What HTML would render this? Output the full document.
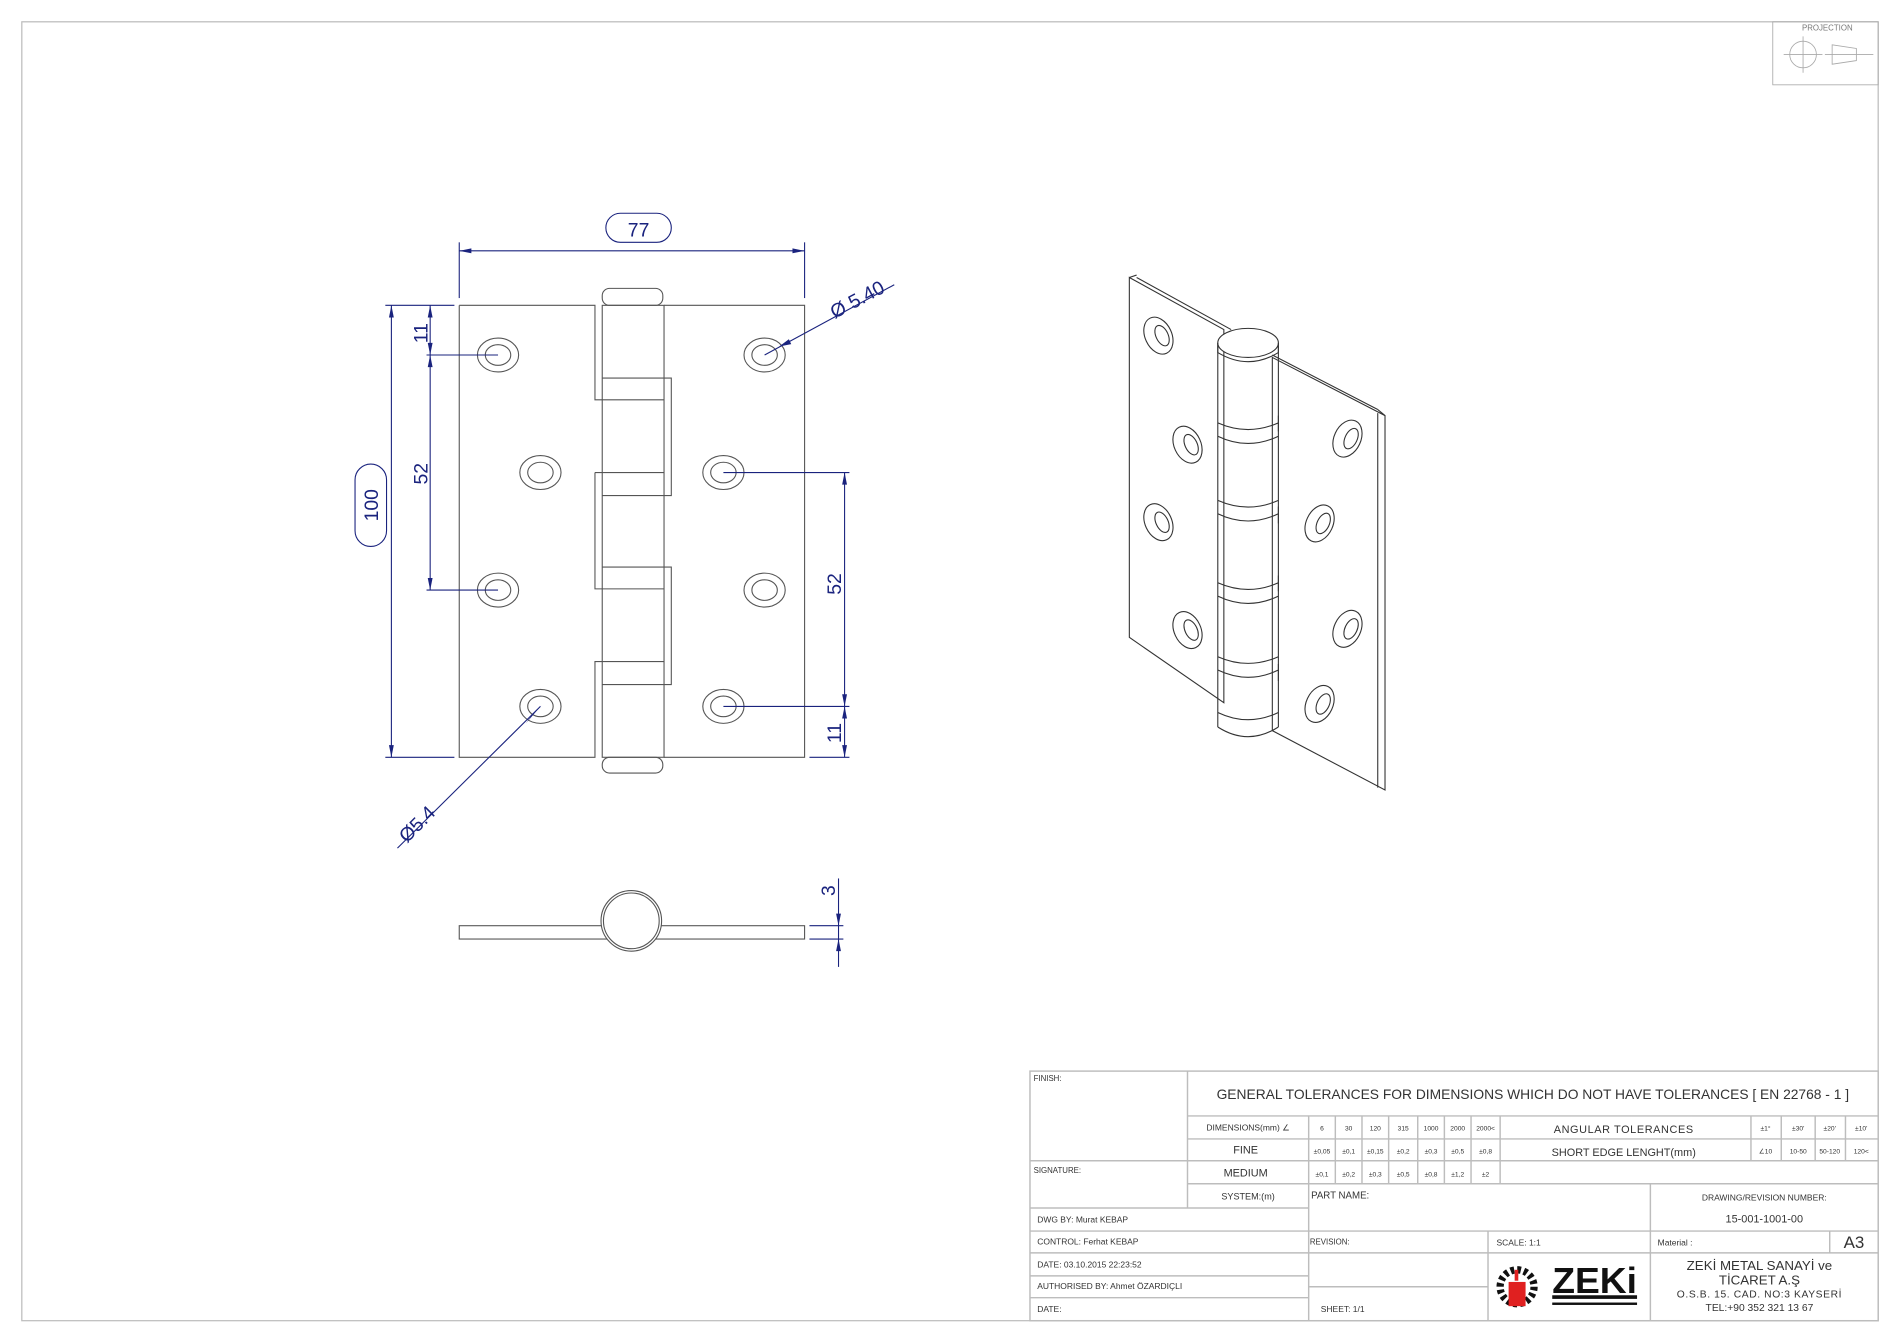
<!DOCTYPE html>
<html><head><meta charset="utf-8"><style>
html,body{margin:0;padding:0;background:#fff;}
svg{display:block;}
text{font-family:"Liberation Sans","DejaVu Sans",sans-serif;}
</style></head><body>
<svg width="1900" height="1343" viewBox="0 0 1568 1108.4" preserveAspectRatio="none" xmlns="http://www.w3.org/2000/svg">
<rect x="0" y="0" width="1568" height="1108.4" fill="#fff"/>
<!-- frame -->
<rect x="18" y="18" width="1532" height="1072" fill="none" stroke="#bbb" stroke-width="1"/>
<!-- projection box -->
<g stroke="#aaa" fill="none" stroke-width="0.7">
<rect x="1463" y="18" width="87" height="52"/>
<circle cx="1488" cy="45" r="11"/>
<line x1="1472" y1="45" x2="1504" y2="45"/><line x1="1488" y1="30" x2="1488" y2="60"/>
<polygon points="1512,37 1532,40 1532,50 1512,53"/>
<line x1="1506" y1="45" x2="1546" y2="45"/>
</g>
<text x="1508" y="25" font-size="6.5" fill="#777" text-anchor="middle">PROJECTION</text>

<!-- FRONT VIEW -->
<g stroke="#555" fill="none" stroke-width="0.9">
<path d="M379,252 H491 V330 H497 M491,330 M379,252 V625 H491 V546 H497"/>
<path d="M491,390 H497 M491,390 V486 H497"/>
<path d="M548,252 H664 V625 H548"/>
<rect x="497" y="252" width="51" height="373"/>
<rect x="497" y="238" width="50" height="14" rx="6"/>
<rect x="497" y="625" width="50" height="13" rx="6"/>
<line x1="497" y1="312" x2="548" y2="312"/><line x1="497" y1="330" x2="548" y2="330"/>
<line x1="497" y1="390" x2="548" y2="390"/><line x1="497" y1="409" x2="548" y2="409"/>
<line x1="497" y1="468" x2="548" y2="468"/><line x1="497" y1="486" x2="548" y2="486"/>
<line x1="497" y1="546" x2="548" y2="546"/><line x1="497" y1="565" x2="548" y2="565"/>
<path d="M548,312 H554 V409 H548 M548,468 H554 V565 H548"/>
<g>
<ellipse cx="411" cy="293" rx="17" ry="14"/><ellipse cx="411" cy="293" rx="10.5" ry="8.5"/>
<ellipse cx="446" cy="390" rx="17" ry="14"/><ellipse cx="446" cy="390" rx="10.5" ry="8.5"/>
<ellipse cx="411" cy="487" rx="17" ry="14"/><ellipse cx="411" cy="487" rx="10.5" ry="8.5"/>
<ellipse cx="446" cy="583" rx="17" ry="14"/><ellipse cx="446" cy="583" rx="10.5" ry="8.5"/>
<ellipse cx="631" cy="293" rx="17" ry="14"/><ellipse cx="631" cy="293" rx="10.5" ry="8.5"/>
<ellipse cx="597" cy="390" rx="17" ry="14"/><ellipse cx="597" cy="390" rx="10.5" ry="8.5"/>
<ellipse cx="631" cy="487" rx="17" ry="14"/><ellipse cx="631" cy="487" rx="10.5" ry="8.5"/>
<ellipse cx="597" cy="583" rx="17" ry="14"/><ellipse cx="597" cy="583" rx="10.5" ry="8.5"/>
</g>
<!-- bottom view -->
<rect x="379" y="764" width="285" height="11"/>
<circle cx="521" cy="760" r="25" fill="#fff"/><circle cx="521" cy="760" r="23"/>
</g>

<!-- DIMENSIONS -->
<g stroke="#1a237e" fill="none" stroke-width="0.9">
<line x1="379" y1="200" x2="379" y2="246"/><line x1="664" y1="200" x2="664" y2="246"/>
<line x1="379" y1="207" x2="664" y2="207"/>
<rect x="500" y="176" width="54" height="24" rx="12"/>
<line x1="318" y1="252" x2="375" y2="252"/><line x1="318" y1="625" x2="375" y2="625"/>
<line x1="323" y1="252" x2="323" y2="625"/>
<rect x="293" y="383" width="26" height="68" rx="13"/>
<line x1="355" y1="252" x2="355" y2="487"/>
<line x1="352" y1="293" x2="411" y2="293"/><line x1="352" y1="487" x2="411" y2="487"/>
<line x1="697" y1="390" x2="697" y2="625"/>
<line x1="597" y1="390" x2="701" y2="390"/><line x1="597" y1="583" x2="701" y2="583"/>
<line x1="668" y1="625" x2="701" y2="625"/>
<line x1="631" y1="293" x2="738" y2="235"/>
<line x1="446" y1="583" x2="328" y2="700"/>
<line x1="692" y1="725" x2="692" y2="798"/>
<line x1="668" y1="764" x2="696" y2="764"/><line x1="668" y1="775" x2="696" y2="775"/>
</g>
<g fill="#1a237e">
<polygon points="379,207 389,205 389,209"/><polygon points="664,207 654,205 654,209"/>
<polygon points="323,252 321,262 325,262"/><polygon points="323,625 321,615 325,615"/>
<polygon points="355,252 353,262 357,262"/><polygon points="355,293 353,283 357,283"/>
<polygon points="355,293 353,303 357,303"/><polygon points="355,487 353,477 357,477"/>
<polygon points="697,390 695,400 699,400"/><polygon points="697,583 695,573 699,573"/>
<polygon points="697,583 695,593 699,593"/><polygon points="697,625 695,615 699,615"/>
<polygon points="692,764 690,754 694,754"/><polygon points="692,775 690,785 694,785"/>
<polygon points="643,286 651,280 653,284"/>
<polygon points="439,590 447,582 434,597" />
</g>
<g fill="#1a237e" font-size="16">
<text x="527" y="195" text-anchor="middle">77</text>
<text transform="translate(312,417) rotate(-90)" text-anchor="middle">100</text>
<text transform="translate(353,275) rotate(-90)" text-anchor="middle">11</text>
<text transform="translate(353,391) rotate(-90)" text-anchor="middle">52</text>
<text transform="translate(694,482) rotate(-90)" text-anchor="middle">52</text>
<text transform="translate(694,605) rotate(-90)" text-anchor="middle">11</text>
<text transform="translate(689,735) rotate(-90)" text-anchor="middle">3</text>
<text transform="translate(710,252) rotate(-28)" text-anchor="middle">Ø 5.40</text>
<text transform="translate(348,684) rotate(-45)" text-anchor="middle">Ø5.4</text>
</g>

<!-- ISO VIEW -->
<g stroke="#333" fill="none" stroke-width="0.9">
<polygon points="932,229 1010,272 1010,580 932,526" fill="#fff"/>
<polygon points="938,229 1016,272" />
<line x1="932" y1="229" x2="938" y2="227"/>
<polygon points="1050,295 1143,343 1143,652 1050,603" fill="#fff"/>
<line x1="1050" y1="293" x2="1137" y2="338"/><line x1="1137" y1="338" x2="1143" y2="343"/>
<line x1="1137" y1="341" x2="1137" y2="650"/>
<path d="M1005,283 V600 M1055,283 V600" />
<path d="M1005,600 Q1030,616 1055,600" />
<ellipse cx="1030" cy="283" rx="25" ry="12" fill="#fff"/>
<path d="M1005,283 V291 Q1030,306 1055,291 V283"/>
<path d="M1005,349 Q1030,360 1055,349 M1005,360 Q1030,372 1055,360 M1055,343 V356"/>
<path d="M1005,413 Q1030,424 1055,413 M1005,424 Q1030,436 1055,424 M1055,418 V432"/>
<path d="M1005,481 Q1030,492 1055,481 M1005,492 Q1030,504 1055,492 M1055,475 V488"/>
<path d="M1005,542 Q1030,553 1055,542 M1005,553 Q1030,565 1055,553 M1055,548 V562"/>
<path d="M1005,588 Q1030,600 1055,588"/>
<g>
<ellipse cx="956" cy="277" rx="11" ry="16" transform="rotate(-25 956 277)"/><ellipse cx="959" cy="277" rx="5" ry="9" transform="rotate(-25 959 277)"/>
<ellipse cx="980" cy="367" rx="11" ry="16" transform="rotate(-25 980 367)"/><ellipse cx="983" cy="367" rx="5" ry="9" transform="rotate(-25 983 367)"/>
<ellipse cx="956" cy="431" rx="11" ry="16" transform="rotate(-25 956 431)"/><ellipse cx="959" cy="431" rx="5" ry="9" transform="rotate(-25 959 431)"/>
<ellipse cx="980" cy="520" rx="11" ry="16" transform="rotate(-25 980 520)"/><ellipse cx="983" cy="520" rx="5" ry="9" transform="rotate(-25 983 520)"/>
<ellipse cx="1112" cy="362" rx="11" ry="16" transform="rotate(25 1112 362)"/><ellipse cx="1115" cy="362" rx="5" ry="9" transform="rotate(25 1115 362)"/>
<ellipse cx="1089" cy="432" rx="11" ry="16" transform="rotate(25 1089 432)"/><ellipse cx="1092" cy="432" rx="5" ry="9" transform="rotate(25 1092 432)"/>
<ellipse cx="1112" cy="519" rx="11" ry="16" transform="rotate(25 1112 519)"/><ellipse cx="1115" cy="519" rx="5" ry="9" transform="rotate(25 1115 519)"/>
<ellipse cx="1089" cy="581" rx="11" ry="16" transform="rotate(25 1089 581)"/><ellipse cx="1092" cy="581" rx="5" ry="9" transform="rotate(25 1092 581)"/>
</g>
</g>

<!-- TITLE BLOCK -->
<g stroke="#bdbdbd" fill="none" stroke-width="1.2">
<rect x="850" y="884" width="700" height="206"/>
<line x1="980" y1="884" x2="980" y2="997"/>
<line x1="980" y1="921" x2="1550" y2="921"/>
<line x1="980" y1="940" x2="1550" y2="940"/>
<line x1="850" y1="958" x2="1550" y2="958"/>
<line x1="980" y1="977" x2="1550" y2="977"/>
<line x1="850" y1="997" x2="1080" y2="997"/>
<line x1="1362" y1="977" x2="1362" y2="1090"/>
<line x1="850" y1="1016" x2="1550" y2="1016"/>
<line x1="850" y1="1034" x2="1550" y2="1034"/>
<line x1="850" y1="1053" x2="1080" y2="1053"/>
<line x1="1080" y1="1062" x2="1228" y2="1062"/>
<line x1="850" y1="1071" x2="1080" y2="1071"/>
<line x1="1080" y1="921" x2="1080" y2="1090"/>
<line x1="1228" y1="1016" x2="1228" y2="1090"/>
<line x1="1510" y1="1016" x2="1510" y2="1034"/>
<line x1="1102" y1="921" x2="1102" y2="977"/><line x1="1124" y1="921" x2="1124" y2="977"/>
<line x1="1146" y1="921" x2="1146" y2="977"/><line x1="1170" y1="921" x2="1170" y2="977"/>
<line x1="1192" y1="921" x2="1192" y2="977"/><line x1="1214" y1="921" x2="1214" y2="977"/>
<line x1="1238" y1="921" x2="1238" y2="977"/>
<line x1="1445" y1="921" x2="1445" y2="958"/><line x1="1470" y1="921" x2="1470" y2="958"/>
<line x1="1498" y1="921" x2="1498" y2="958"/><line x1="1523" y1="921" x2="1523" y2="958"/>
</g>
<g fill="#333" font-size="7.5">
<text x="853" y="892" font-size="6.5">FINISH:</text>
<text x="1265" y="907" font-size="11.5" text-anchor="middle" textLength="522" lengthAdjust="spacingAndGlyphs">GENERAL TOLERANCES FOR DIMENSIONS WHICH DO NOT HAVE TOLERANCES [ EN 22768 - 1 ]</text>
<text x="1030" y="933" font-size="7" text-anchor="middle">DIMENSIONS(mm) ∠</text>
<text x="1028" y="952" font-size="9" text-anchor="middle">FINE</text>
<text x="1028" y="971" font-size="9" text-anchor="middle">MEDIUM</text>
<text x="1030" y="990" font-size="7.5" text-anchor="middle">SYSTEM:(m)</text>
<text x="853" y="968" font-size="6.5">SIGNATURE:</text>
<g font-size="5.5" text-anchor="middle">
<text x="1091" y="933">6</text><text x="1113" y="933">30</text><text x="1135" y="933">120</text><text x="1158" y="933">315</text><text x="1181" y="933">1000</text><text x="1203" y="933">2000</text><text x="1226" y="933">2000&lt;</text>
<text x="1091" y="952">±0,05</text><text x="1113" y="952">±0,1</text><text x="1135" y="952">±0,15</text><text x="1158" y="952">±0,2</text><text x="1181" y="952">±0,3</text><text x="1203" y="952">±0,5</text><text x="1226" y="952">±0,8</text>
<text x="1091" y="971">±0,1</text><text x="1113" y="971">±0,2</text><text x="1135" y="971">±0,3</text><text x="1158" y="971">±0,5</text><text x="1181" y="971">±0,8</text><text x="1203" y="971">±1,2</text><text x="1226" y="971">±2</text>
<text x="1457" y="933">±1°</text><text x="1484" y="933">±30'</text><text x="1510" y="933">±20'</text><text x="1536" y="933">±10'</text>
<text x="1457" y="952">∠10</text><text x="1484" y="952">10-50</text><text x="1510" y="952">50-120</text><text x="1536" y="952">120&lt;</text>
</g>
<text x="1340" y="935" font-size="9" text-anchor="middle" letter-spacing="0.5">ANGULAR  TOLERANCES</text>
<text x="1340" y="954" font-size="9" text-anchor="middle">SHORT EDGE LENGHT(mm)</text>
<text x="1082" y="989" font-size="8">PART NAME:</text>
<text x="1456" y="991" font-size="7" text-anchor="middle">DRAWING/REVISION NUMBER:</text>
<text x="1456" y="1009" font-size="9" text-anchor="middle">15-001-1001-00</text>
<text x="856" y="1009" font-size="7">DWG BY:   Murat KEBAP</text>
<text x="856" y="1027" font-size="7">CONTROL:  Ferhat KEBAP</text>
<text x="856" y="1046" font-size="7">DATE: 03.10.2015 22:23:52</text>
<text x="856" y="1064" font-size="7">AUTHORISED BY: Ahmet ÖZARDIÇLI</text>
<text x="856" y="1083" font-size="7">DATE:</text>
<text x="1081" y="1027" font-size="6.5">REVISION:</text>
<text x="1235" y="1028" font-size="7">SCALE: 1:1</text>
<text x="1368" y="1028" font-size="7">Material :</text>
<text x="1530" y="1030" font-size="14" text-anchor="middle">A3</text>
<text x="1090" y="1083" font-size="7">SHEET: 1/1</text>
<text x="1452" y="1048" font-size="11" text-anchor="middle">ZEKİ METAL SANAYİ ve</text>
<text x="1452" y="1060" font-size="11" text-anchor="middle">TİCARET A.Ş</text>
<text x="1452" y="1071" font-size="8.5" text-anchor="middle" letter-spacing="0.5">O.S.B. 15. CAD. NO:3   KAYSERİ</text>
<text x="1452" y="1082" font-size="8.5" text-anchor="middle">TEL:+90 352 321 13 67</text>
</g>
<!-- logo -->
<g>
<circle cx="1252" cy="1062" r="14" fill="none" stroke="#111" stroke-width="6" stroke-dasharray="3 2.5"/>
<circle cx="1252" cy="1062" r="10" fill="#fff"/>
<rect x="1245" y="1058" width="14" height="20" fill="#e02020"/>
<rect x="1250" y="1048" width="3" height="9" fill="#e02020"/>
<text x="1316" y="1067" font-size="30" font-weight="bold" fill="#111" text-anchor="middle" textLength="70" lengthAdjust="spacingAndGlyphs" font-family="Liberation Sans Narrow, Liberation Sans, sans-serif">ZEKi</text>
<rect x="1281" y="1069" width="70" height="3" fill="#111"/>
<rect x="1281" y="1075" width="70" height="2" fill="#111"/>
</g>
</svg>
</body></html>
